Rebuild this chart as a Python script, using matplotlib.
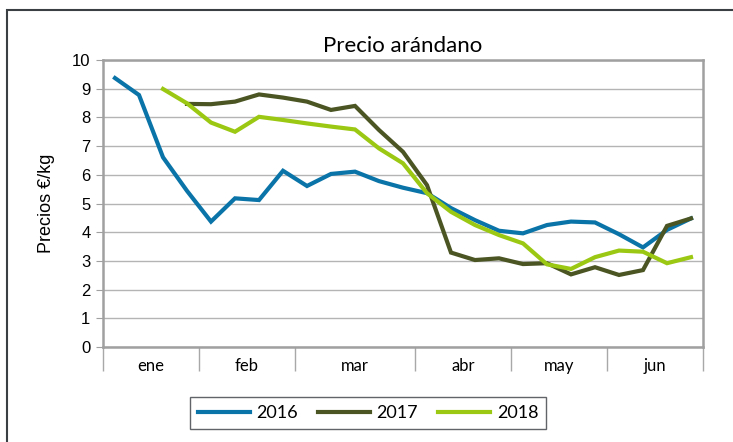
import matplotlib.pyplot as plt
import numpy as np
from matplotlib.patches import Rectangle

# data (weekly prices, euro per kg)
months = ["ene", "feb", "mar", "abr", "may", "jun"]
weeks_per_month = [4, 4, 5, 4, 4, 4]

price_2016 = [9.37, 8.78, 6.61, 5.44, 4.37, 5.18, 5.12, 6.14, 5.61, 6.03, 6.11, 5.78, 5.55,
              5.36, 4.84, 4.42, 4.05, 3.96, 4.25, 4.37, 4.34, 3.93, 3.47, 4.08, 4.48]
price_2017 = [None, None, None, 8.47, 8.46, 8.55, 8.80, 8.69, 8.55, 8.26, 8.40, 7.56, 6.80,
              5.64, 3.29, 3.03, 3.09, 2.89, 2.92, 2.53, 2.78, 2.51, 2.68, 4.22, 4.48]
price_2018 = [None, None, 8.99, 8.49, 7.82, 7.50, 8.02, 7.91, 7.79, 7.68, 7.58, 6.92, 6.40,
              5.36, 4.71, 4.25, 3.90, 3.61, 2.88, 2.72, 3.13, 3.36, 3.32, 2.92, 3.13]

series = [("2016", price_2016, "#0a73a8"),
          ("2017", price_2017, "#4a5523"),
          ("2018", price_2018, "#9bc812")]

label_font = ["Lato", "DejaVu Sans"]
num_font = ["Liberation Sans", "DejaVu Sans"]


def to_array(values):
    """Turns a list with gaps into a float array with NaN."""
    return np.array([np.nan if v is None else v for v in values], dtype=float)


fig = plt.figure(figsize=(7.33, 4.42), dpi=100)
ax = fig.add_axes([103 / 733, 1 - 347 / 442, 600 / 733, 287 / 442])

# outer chart border (only top and left visible in the crop)
fig.patches.append(Rectangle((7 / 733, -0.1), 1.2, 1 - 10 / 442 + 0.1, transform=fig.transFigure,
                             fill=False, edgecolor="#3a3f44", linewidth=1.5))

n_points = sum(weeks_per_month)
x = np.arange(n_points)
for name, values, color in series:
    ax.plot(x, to_array(values), color=color, linewidth=3, label=name, solid_joinstyle="miter")

ax.set_xlim(-0.5, n_points - 0.5)
ax.set_ylim(0, 10)
ax.set_yticks(range(0, 11))
ax.set_yticklabels([str(v) for v in range(0, 11)], family=num_font, fontsize=12)
ax.grid(axis="y", color="#b4b4b4", linewidth=1)
ax.set_axisbelow(True)
ax.tick_params(axis="y", length=5, color="#a0a0a0", pad=4)

# month groups on the category axis
edges = np.concatenate([[0], np.cumsum(weeks_per_month)]) - 0.5
centers = (edges[:-1] + edges[1:]) / 2
ax.set_xticks(edges, minor=True)
ax.set_xticks(centers)
ax.set_xticklabels(months, family=label_font, fontsize=12)
ax.tick_params(axis="x", which="major", length=0, pad=8)
ax.tick_params(axis="x", which="minor", length=17, width=1, color="#a8a8a8")

for spine in ax.spines.values():
    spine.set_color("#a0a0a0")
    spine.set_linewidth(1.8)

ax.set_ylabel("Precios €/kg", family=num_font, fontsize=13, labelpad=12)
ax.set_title("Precio arándano", family=label_font, fontsize=16, pad=6)

legend = fig.legend(loc="center", bbox_to_anchor=(368 / 733, 1 - 413 / 442), ncol=3,
                    prop={"family": label_font, "size": 13}, frameon=True, fancybox=False,
                    edgecolor="#3a3f44", handlelength=2.9, columnspacing=1.1,
                    handletextpad=0.35, borderpad=0.45, borderaxespad=0)
legend.get_frame().set_linewidth(1)

fig.savefig("out.png", dpi=100)
